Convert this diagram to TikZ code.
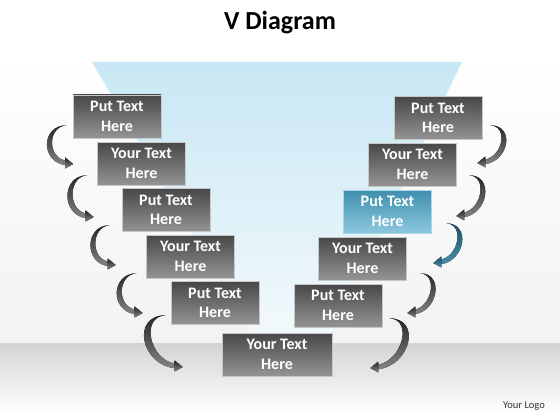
\documentclass[tikz,border=0pt]{standalone}
\usepackage{fontspec}
\setmainfont{Carlito}
\usetikzlibrary{calc}
\definecolor{vbtop}{RGB}{62,143,174}
\definecolor{vbbot}{RGB}{140,200,222}
\definecolor{vbline}{RGB}{170,215,232}
\definecolor{funtop}{RGB}{200,231,244}
\definecolor{funbot}{RGB}{243,249,252}
\definecolor{ribtop}{RGB}{28,82,104}
\definecolor{ribbot}{RGB}{72,142,168}
\tikzset{
  vbox/.style={minimum width=88pt, minimum height=43pt, inner sep=0pt, align=center,
    text=white, font=\fontsize{16}{19.5}\selectfont\bfseries, draw=black!22, line width=0.6pt,
    top color=black!72, bottom color=black!42},
  vboxblue/.style={vbox, top color=vbtop, bottom color=vbbot, draw=vbline},
  greyrib/.style={top color=black!85, bottom color=black!48},
  bluerib/.style={top color=ribtop, bottom color=ribbot},
}
\newcommand\leftrib[4]{%
  \path ($(#2)+(-7,-1)$) coordinate (e);
  \fill[#4] (#1) .. controls +(#3,0) and +(#3,-3) .. ($(e)+(0,2.3)$) -- ($(e)+(0,-2.3)$)
     .. controls +({0.74*(#3)},-3) and +({0.74*(#3)},1) .. (#1) -- cycle;
  \fill[#4] ($(#2)+(-8,-6.5)$) -- (#2) -- ($(#2)+(-8,4.5)$) -- cycle;
}
\newcommand\rightrib[4]{%
  \path ($(#2)+(7,-1)$) coordinate (e);
  \fill[#4] (#1) .. controls +(#3,0) and +(#3,-3) .. ($(e)+(0,2.3)$) -- ($(e)+(0,-2.3)$)
     .. controls +({0.74*(#3)},-3) and +({0.74*(#3)},1) .. (#1) -- cycle;
  \fill[#4] ($(#2)+(8,-6.5)$) -- (#2) -- ($(#2)+(8,4.5)$) -- cycle;
}
\begin{document}
\begin{tikzpicture}[x=1pt,y=-1pt]
\useasboundingbox (0,0) rectangle (560,420);
% background
\fill[white] (0,0) rectangle (560,420);
\shade[top color=white, bottom color=black!5] (0,55) rectangle (560,343);
\shade[top color=black!17, bottom color=white] (0,343) rectangle (560,412);
\fill[white] (0,412) rectangle (560,420);
% funnel
\shade[top color=funtop, bottom color=funbot] (92,62) -- (462,62) -- (330,335) -- (252,335) -- cycle;
% title and logo
\node[font=\fontsize{26}{30}\selectfont\bfseries] (title) at (280,23) {V Diagram};
\node[font=\fontsize{10.5}{12}\selectfont, text=black!80] (logo) at (524,406) {Your Logo};
% boxes
\node[vbox] (a1) at (117,116.5) {Put Text\\Here};
\node[vbox] (a2) at (141.5,163.5) {Your Text\\Here};
\node[vbox] (a3) at (166,210) {Put Text\\Here};
\node[vbox] (a4) at (190.5,256.5) {Your Text\\Here};
\node[vbox] (a5) at (215,303) {Put Text\\Here};
\node[vbox, minimum width=110pt] (b) at (277,354.5) {Your Text\\Here};
\node[vbox] (c1) at (438,118) {Put Text\\Here};
\node[vbox] (c2) at (412.5,164.5) {Your Text\\Here};
\node[vboxblue] (c3) at (387.5,211.5) {Put Text\\Here};
\node[vbox] (c4) at (362.5,258.5) {Your Text\\Here};
\node[vbox] (c5) at (338,305.5) {Put Text\\Here};
% arrow end points
\coordinate (ls1) at ($(a1.south west)+(-6,-13)$);
\coordinate (lt1) at ($(a2.west)+(-24,0.5)$);
\coordinate (ls2) at ($(a2.south west)+(-10,-10)$);
\coordinate (lt2) at ($(a3.west)+(-28,7)$);
\coordinate (ls3) at ($(a3.south west)+(-12,-6.5)$);
\coordinate (lt3) at ($(a4.west)+(-30.5,8.5)$);
\coordinate (ls4) at ($(a4.south west)+(-9.5,-5)$);
\coordinate (lt4) at ($(a5.west)+(-28,10)$);
\coordinate (ls5) at ($(a5.south west)+(-5,-9.5)$);
\coordinate (lt5) at ($(b.west)+(-39,12.5)$);
\coordinate (rs1) at ($(c1.south east)+(8,-14.5)$);
\coordinate (rt1) at ($(c2.east)+(20.5,-1.5)$);
\coordinate (rs2) at ($(c2.south east)+(12.5,-11)$);
\coordinate (rt2) at ($(c3.east)+(24.5,4.5)$);
\coordinate (rs3) at ($(c3.south east)+(14.5,-10)$);
\coordinate (rt3) at ($(c4.east)+(26.5,4.5)$);
\coordinate (rs4) at ($(c4.south east)+(13.5,-7)$);
\coordinate (rt4) at ($(c5.east)+(25,7.5)$);
\coordinate (rs5) at ($(c5.south east)+(7,-9)$);
\coordinate (rt5) at ($(b.east)+(38,13.5)$);
% ribbons
\leftrib{ls1}{lt1}{-26}{greyrib}
\leftrib{ls2}{lt2}{-26}{greyrib}
\leftrib{ls3}{lt3}{-25}{greyrib}
\leftrib{ls4}{lt4}{-26}{greyrib}
\leftrib{ls5}{lt5}{-35}{greyrib}
\rightrib{rs1}{rt1}{25}{greyrib}
\rightrib{rs2}{rt2}{25}{greyrib}
\rightrib{rs3}{rt3}{25}{bluerib}
\rightrib{rs4}{rt4}{24}{greyrib}
\rightrib{rs5}{rt5}{33}{greyrib}
\end{tikzpicture}
\end{document}
